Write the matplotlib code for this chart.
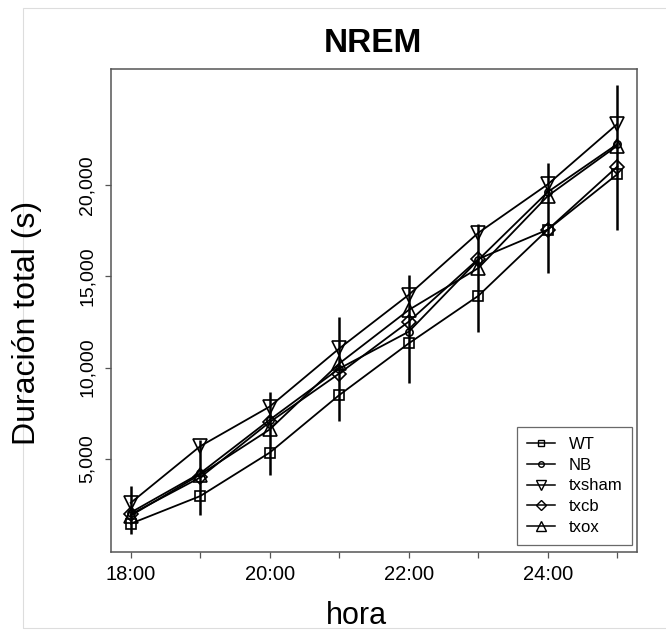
import matplotlib
matplotlib.use("Agg")
import matplotlib.pyplot as plt
from matplotlib.lines import Line2D
from matplotlib.patches import Rectangle

plt.rcParams['font.family'] = ['Liberation Sans', 'DejaVu Sans']

# ---------------- data ----------------
hours = [18, 19, 20, 21, 22, 23, 24, 25]
tick_hours = [18, 20, 22, 24]
tick_labels = ["18:00", "20:00", "22:00", "24:00"]
y_ticks = [5000, 10000, 15000, 20000]
y_tick_labels = ["5,000", "10,000", "15,000", "20,000"]

series_names = ["WT", "NB", "txsham", "txcb", "txox"]
WT = [1460, 2970, 5350, 8500, 11330, 13930, 17560, 20590]
NB = [2070, 4220, 7150, 9950, 11970, 15900, 19620, 22240]
txsham = [2600, 5700, 7870, 11050, 13990, 17380, 20040, 23340]
txcb = [1970, 3990, 7020, 9680, 12520, 15950, 17560, 21010]
txox = [1900, 4150, 6620, 10230, 13160, 15450, 19400, 22150]

bar_top = [3530, 6050, 8650, 12800, 15090, 17840, 21230, 25450]
bar_bottom = [880, 1930, 4120, 7070, 9160, 11970, 15180, 17530]

# ---------------- styles ----------------
W, H = 666, 633
fig = plt.figure(figsize=(W / 100, H / 100), dpi=100)
fig.patch.set_facecolor("white")

# faint outer frame
fig.patches.append(Rectangle((23 / W, 1 - 628 / H), (720 - 23) / W, (628 - 8) / H,
                             transform=fig.transFigure, fill=False,
                             edgecolor="#dddddd", linewidth=0.8))

ax = fig.add_axes([111 / W, 1 - 552 / H, (637 - 111) / W, (552 - 69) / H])

values = [WT, NB, txsham, txcb, txox]
markers = ["s", "o", "v", "D", "^"]
msizes = [6.8, 5.2, 10.5, 6.8, 10.5]
leg_msizes = [4.8, 4.0, 7.0, 4.6, 7.0]

ax.vlines(hours, bar_bottom, bar_top, color="black", linewidth=1.8, zorder=2)

for vals, m, ms in zip(values, markers, msizes):
    ax.plot(hours, vals, color="black", linewidth=1.3, marker=m, markersize=ms,
            markerfacecolor="none", markeredgecolor="black", markeredgewidth=1.2,
            zorder=3)

ax.set_xlim(17.717, 25.283)
ax.set_ylim(-90, 26350)

ax.set_xticks(hours)
ax.set_xticklabels([tick_labels[tick_hours.index(h)] if h in tick_hours else "" for h in hours],
                   fontsize=14.5)
ax.set_yticks(y_ticks)
ax.set_yticklabels(y_tick_labels, fontsize=14, rotation=90, va="center")

for s in ax.spines.values():
    s.set_color("#555555")
    s.set_linewidth(1.1)
ax.tick_params(axis="both", direction="out", length=4, width=0.9, color="#555555",
               labelcolor="black")
ax.tick_params(axis="x", pad=5)
ax.tick_params(axis="y", pad=7)

# legend
handles = [Line2D([0], [0], color="black", linewidth=1.1, marker=m, markersize=ms,
                  markerfacecolor="none", markeredgecolor="black", markeredgewidth=1.0)
           for m, ms in zip(markers, leg_msizes)]
leg = ax.legend(handles, series_names, loc="upper left",
                bbox_to_anchor=(517 / W, 1 - 427 / H), bbox_transform=fig.transFigure,
                borderaxespad=0, fontsize=12, frameon=True, fancybox=False,
                handlelength=1.7, handletextpad=0.8, borderpad=0.6,
                labelspacing=0.34)
leg.get_frame().set_edgecolor("#444444")
leg.get_frame().set_linewidth(0.9)

# titles / labels
fig.text(373 / W, 1 - 52 / H, "NREM", fontsize=24, fontweight="bold",
         ha="center", va="baseline")
fig.text(356 / W, 1 - 624 / H, "hora", fontsize=22, ha="center", va="baseline")
fig.text(27 / W, 1 - 323 / H, "Duración total (s)", fontsize=23, rotation=90,
         ha="center", va="center")

fig.savefig("out.png", dpi=100)
